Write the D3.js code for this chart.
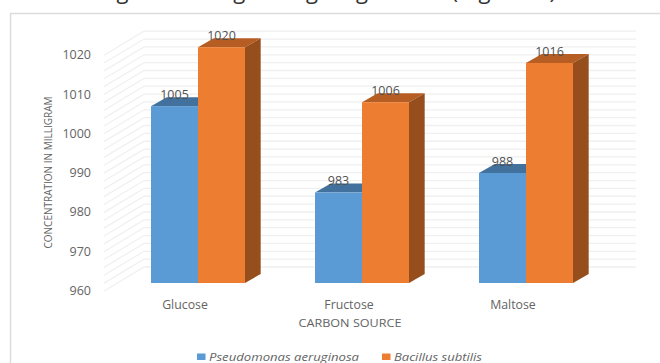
<!DOCTYPE html>
<html>
<head>
<meta charset="utf-8">
<script src="https://cdn.jsdelivr.net/npm/d3@7/dist/d3.min.js"></script>
<style>
  html, body { margin: 0; padding: 0; background: #fff; overflow: hidden; }
  svg { display: block; }
  text { font-family: "Open Sans", sans-serif; fill: #646464; }
</style>
</head>
<body>
<svg id="chart" width="660" height="363"></svg>
<script>
// Chart values
const categories = ["Glucose", "Fructose", "Maltose"];
const seriesNames = ["Pseudomonas aeruginosa", "Bacillus subtilis"];
const pseudomonas = [1005, 983, 988];
const bacillus = [1020, 1006, 1016];
const yTicks = [960, 970, 980, 990, 1000, 1010, 1020];
const gridValues = d3.range(960, 1021, 2);
const titleText = "Sugar reducing during long culture (mg/10ml)";
const xTitle = "CARBON SOURCE";
const yTitle = "CONCENTRATION IN MILLIGRAM";

const seriesValues = [pseudomonas, bacillus];
const palette = [
  { front: "#5b9bd5", top: "#41719c", side: "#3a6a94" },
  { front: "#ed7d31", top: "#b55d22", side: "#964e1c" }
];

const svg = d3.select("#chart");

// Extrusion offsets of the 3D look
const wall = { dx: 40, dy: 24 };   // floor depth of the walls
const bar = { dx: 15.7, dy: 9 };   // depth of each column

// Value scale on the plane where the column fronts sit
const y = d3.scaleLinear().domain([960, 1020]).range([283, 47.2]);
// The side wall's front edge and the back wall are shifted copies of that plane
const frontEdge = v => y(v) + 8;
const backEdge = v => y(v) - 16;

const x0 = d3.scaleBand().domain(categories).range([116, 608])
  .paddingInner(0.427).paddingOuter(0.2135);
const x1 = d3.scaleBand().domain(d3.range(seriesNames.length)).range([0, x0.bandwidth()]);

// Outer frame
svg.append("path")
  .attr("d", "M10.5,363V13.5H660")
  .attr("fill", "none").attr("stroke", "#dcdcdc").attr("stroke-width", 1.5);

// Title sits partly above the top edge of the page
svg.append("text")
  .attr("x", 91).attr("y", -1.5)
  .attr("font-size", 22).style("fill", "#333")
  .text(titleText);

// Back wall and side wall gridlines
const grid = svg.append("g").attr("fill", "none").attr("stroke", "#f0f0f0").attr("stroke-width", 1.3);
grid.selectAll("path").data(gridValues).join("path")
  .attr("d", v => `M${144 - wall.dx},${frontEdge(v)}L144,${backEdge(v)}H636`);

// Axis tick labels
svg.append("g").selectAll("text").data(yTicks).join("text")
  .attr("x", 91).attr("y", v => frontEdge(v) - 0.3)
  .attr("dy", "0.35em").attr("text-anchor", "end").attr("font-size", 12.5)
  .text(d => d);

// Columns: tops, then fronts, then visible sides, series by series
categories.forEach((cat, i) => {
  const g = svg.append("g");
  seriesValues.forEach((vals, s) => {
    const xl = x0(cat) + x1(s), w = x1.bandwidth(), top = y(vals[i]), base = y(960), c = palette[s];
    g.append("path")
      .attr("d", `M${xl},${top}l${bar.dx},${-bar.dy}h${w}l${-bar.dx},${bar.dy}z`)
      .attr("fill", c.top);
    g.append("path")
      .attr("d", `M${xl + w},${top}l${bar.dx},${-bar.dy}V${base - bar.dy}l${-bar.dx},${bar.dy}z`)
      .attr("fill", c.side);
    g.append("rect")
      .attr("x", xl).attr("y", top).attr("width", w).attr("height", base - top)
      .attr("fill", c.front);
  });
});

// Value labels
categories.forEach((cat, i) => {
  seriesValues.forEach((vals, s) => {
    svg.append("text")
      .attr("x", x0(cat) + x1(s) + x1.bandwidth() / 2)
      .attr("y", y(vals[i]) - 11.5)
      .attr("dy", "0.35em").attr("text-anchor", "middle")
      .attr("font-size", 12.5).style("fill", "#505050")
      .text(vals[i]);
  });
});

// Category labels
svg.append("g").selectAll("text").data(categories).join("text")
  .attr("x", d => x0(d) + x0.bandwidth() / 2 - 13).attr("y", 305)
  .attr("dy", "0.35em").attr("text-anchor", "middle").attr("font-size", 12.3)
  .text(d => d);

// Axis titles
svg.append("text")
  .attr("x", 350).attr("y", 322.5).attr("dy", "0.35em")
  .attr("text-anchor", "middle").attr("font-size", 11.5)
  .attr("textLength", 103).attr("lengthAdjust", "spacingAndGlyphs")
  .text(xTitle);

svg.append("text")
  .attr("transform", "translate(48,172.5) rotate(-90)")
  .attr("dy", "0.35em").attr("text-anchor", "middle")
  .attr("font-size", 11)
  .attr("textLength", 152).attr("lengthAdjust", "spacingAndGlyphs")
  .text(yTitle);

// Legend
const legendX = [197, 382];
const legendWidths = [150, 88];
seriesNames.forEach((name, s) => {
  svg.append("rect")
    .attr("x", legendX[s]).attr("y", 353.5).attr("width", 8.5).attr("height", 6.5)
    .attr("fill", palette[s].front);
  svg.append("text")
    .attr("x", legendX[s] + 12).attr("y", 357)
    .attr("dy", "0.35em").attr("font-size", 11.5).attr("font-style", "italic")
    .attr("textLength", legendWidths[s]).attr("lengthAdjust", "spacingAndGlyphs")
    .text(name);
});
</script>
</body>
</html>
